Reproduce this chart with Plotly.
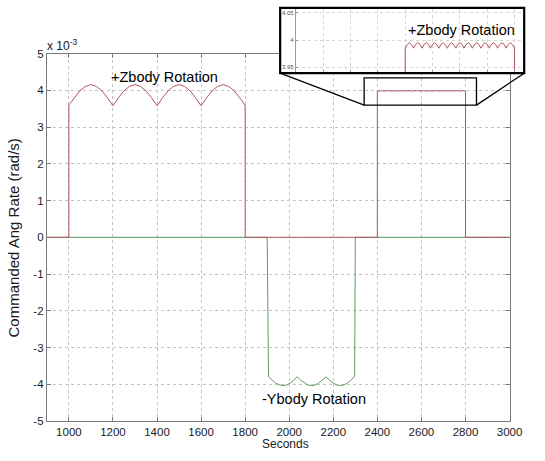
import plotly.graph_objects as go

W, H = 545, 461

# ---------------- data (rates in units of 1e-3 rad/s) ----------------
# +Zbody rotation (red)
z_time = [900, 1000,
          1000, 1025, 1050, 1075, 1100, 1125, 1150, 1175,
          1200, 1225, 1250, 1275, 1300, 1325, 1350, 1375,
          1400, 1425, 1450, 1475, 1500, 1525, 1550, 1575,
          1600, 1625, 1650, 1675, 1700, 1725, 1750, 1775, 1800,
          1800, 2400,
          2400, 2408, 2415, 2423, 2431, 2438, 2446, 2454, 2462, 2469, 2477, 2485,
          2492, 2500, 2508, 2515, 2523, 2531, 2538, 2546, 2554, 2562, 2569, 2577,
          2585, 2592, 2600, 2608, 2615, 2623, 2631, 2638, 2646, 2654, 2662, 2669,
          2677, 2685, 2692, 2700, 2708, 2715, 2723, 2731, 2738, 2746, 2754, 2762,
          2769, 2777, 2785, 2792, 2800,
          2800, 3000]
z_rate = [0, 0,
          3.60, 3.80, 3.99, 4.11, 4.16, 4.11, 3.99, 3.80,
          3.58, 3.80, 3.99, 4.11, 4.16, 4.11, 3.99, 3.80,
          3.58, 3.80, 3.99, 4.11, 4.16, 4.11, 3.99, 3.80,
          3.58, 3.80, 3.99, 4.11, 4.16, 4.11, 3.99, 3.80, 3.60,
          0, 0,
          3.985, 3.992, 3.995, 3.992, 3.985, 3.992, 3.995, 3.992, 3.985, 3.992, 3.995, 3.992,
          3.985, 3.992, 3.995, 3.992, 3.985, 3.992, 3.995, 3.992, 3.985, 3.992, 3.995, 3.992,
          3.985, 3.992, 3.995, 3.992, 3.985, 3.992, 3.995, 3.992, 3.985, 3.992, 3.995, 3.992,
          3.985, 3.992, 3.995, 3.992, 3.985, 3.992, 3.995, 3.992, 3.985, 3.992, 3.995, 3.992,
          3.985, 3.992, 3.995, 3.992, 3.985,
          0, 0]

# -Ybody rotation (green)
y_time = [900, 1900,
          1906, 1922, 1939, 1955, 1971, 1988, 2004, 2020,
          2036, 2052, 2069, 2085, 2101, 2118, 2134, 2150,
          2167, 2183, 2199, 2216, 2232, 2248, 2264, 2281, 2297,
          2300, 3000]
y_rate = [0, 0,
          -3.80, -3.89, -3.97, -4.02, -4.04, -4.02, -3.97, -3.89,
          -3.80, -3.89, -3.97, -4.02, -4.04, -4.02, -3.97, -3.89,
          -3.80, -3.89, -3.97, -4.02, -4.04, -4.02, -3.97, -3.89, -3.78,
          0, 0]

x_ticks = [1000, 1200, 1400, 1600, 1800, 2000, 2200, 2400, 2600, 2800, 3000]
y_ticks = [-5, -4, -3, -2, -1, 0, 1, 2, 3, 4, 5]
y_tick_labels = ["-5", "-4", "-3", "-2", "-1", "0", "1", "2", "3", "4", "5"]
inset_y_ticks = [3.95, 4.0, 4.05]
inset_y_labels = ["3.95", "4", "4.05"]
inset_x_ticks = [2000, 2100, 2200, 2300, 2400, 2500, 2600, 2700, 2800]

zoom_box_x = [2340, 2850]
zoom_box_y = [3.60, 4.34]

RED = "#b3545f"
GREEN = "#5c9c5c"
AXC = "#7a7a7a"
GRID = "#c4c4c4"
FONT = "Liberation Sans, Arial, Helvetica, sans-serif"


def px(x):
    return x / W


def py(y):
    return 1 - y / H


# pixel layout
main_x = (48, 522)
main_y = (49, 426)
box_x = (287, 537)
box_y = (2, 69)
ins_x = (303, 535)
ins_y = (3, 68)

fig = go.Figure()
fig.add_trace(go.Scatter(x=y_time, y=y_rate, mode="lines",
                         line=dict(color=GREEN, width=1), xaxis="x", yaxis="y",
                         showlegend=False, hoverinfo="skip"))
fig.add_trace(go.Scatter(x=z_time, y=z_rate, mode="lines",
                         line=dict(color=RED, width=1), xaxis="x", yaxis="y",
                         showlegend=False, hoverinfo="skip"))
# white backdrop subplot for the inset box
fig.add_trace(go.Scatter(x=[0.5], y=[0.5], mode="markers", marker=dict(opacity=0),
                         xaxis="x2", yaxis="y2", showlegend=False, hoverinfo="skip"))
# inset
fig.add_trace(go.Scatter(x=z_time, y=z_rate, mode="lines",
                         line=dict(color=RED, width=1), xaxis="x3", yaxis="y3",
                         showlegend=False, hoverinfo="skip"))

axis_common = dict(showline=True, linecolor=AXC, linewidth=1, mirror="ticks",
                   ticks="inside", tickcolor=AXC, showgrid=True, gridcolor=GRID,
                   griddash="dot", gridwidth=1, zeroline=False,
                   tickfont=dict(family=FONT, size=11.5, color="#1a1a1a"))

fig.update_layout(
    width=W, height=H, autosize=False,
    margin=dict(l=0, r=0, t=0, b=0),
    paper_bgcolor="white", plot_bgcolor="white",
    font=dict(family=FONT),
    hovermode=False,
    xaxis=dict(domain=[px(main_x[0]), px(main_x[1])], range=[900, 3000],
               tickmode="array", tickvals=x_ticks, ticklen=4, anchor="y",
               **axis_common),
    yaxis=dict(domain=[py(main_y[1]), py(main_y[0])], range=[-5, 5],
               tickmode="array", tickvals=y_ticks, ticktext=y_tick_labels,
               ticklen=4, anchor="x", **axis_common),
    xaxis2=dict(domain=[px(box_x[0]), px(box_x[1])], range=[0, 1], visible=False,
                anchor="y2"),
    yaxis2=dict(domain=[py(box_y[1]), py(box_y[0])], range=[0, 1], visible=False,
                anchor="x2"),
    xaxis3=dict(domain=[px(ins_x[0]), px(ins_x[1])], range=[2000, 2828],
                tickmode="array", tickvals=inset_x_ticks, showticklabels=False,
                showline=True, linecolor="#9a9a9a", linewidth=1, mirror=False,
                ticks="inside", ticklen=2, tickcolor="#9a9a9a",
                showgrid=True, gridcolor="#d4d4d4", griddash="dot", zeroline=False,
                anchor="y3"),
    yaxis3=dict(domain=[py(ins_y[1]), py(ins_y[0])], range=[3.941, 4.057],
                tickmode="array", tickvals=inset_y_ticks, ticktext=inset_y_labels,
                showline=True, linecolor="#9a9a9a", linewidth=1, mirror=False,
                ticks="inside", ticklen=2, tickcolor="#9a9a9a",
                showgrid=True, gridcolor="#d4d4d4", griddash="dot", zeroline=False,
                tickfont=dict(family=FONT, size=6, color="#555555"),
                anchor="x3"),
)

shapes = [
    # zoom rectangle on the main plot
    dict(type="rect", xref="x", yref="y", x0=zoom_box_x[0], x1=zoom_box_x[1],
         y0=zoom_box_y[0], y1=zoom_box_y[1], line=dict(color="black", width=1.3),
         layer="above"),
    # thick inset border
    dict(type="rect", xref="paper", yref="paper", x0=px(box_x[0]), x1=px(box_x[1]),
         y0=py(box_y[1]), y1=py(box_y[0]), line=dict(color="black", width=2.2),
         layer="above"),
]


# connector lines from inset corners to zoom rectangle corners
def data_to_px(xv, yv):
    xp = main_x[0] + (xv - 900) / (3000 - 900) * (main_x[1] - main_x[0])
    yp = main_y[1] - (yv + 5) / 10 * (main_y[1] - main_y[0])
    return xp, yp


bl = data_to_px(zoom_box_x[0], zoom_box_y[0])
br = data_to_px(zoom_box_x[1], zoom_box_y[0])
shapes.append(dict(type="line", xref="paper", yref="paper",
                   x0=px(box_x[0]), y0=py(box_y[1]), x1=px(bl[0]), y1=py(bl[1]),
                   line=dict(color="black", width=1.3), layer="above"))
shapes.append(dict(type="line", xref="paper", yref="paper",
                   x0=px(box_x[1]), y0=py(box_y[1]), x1=px(br[0]), y1=py(br[1]),
                   line=dict(color="black", width=1.3), layer="above"))
fig.update_layout(shapes=shapes)

ann = [
    dict(text="+Zbody Rotation", x=px(168.5), y=py(73), xref="paper", yref="paper",
         showarrow=False, font=dict(size=14.5, color="black", family=FONT),
         xanchor="center", yanchor="middle"),
    dict(text="-Ybody Rotation", x=px(322), y=py(404), xref="paper", yref="paper",
         showarrow=False, font=dict(size=14.5, color="black", family=FONT),
         xanchor="center", yanchor="middle"),
    dict(text="+Zbody Rotation", x=px(473), y=py(25), xref="paper", yref="paper",
         showarrow=False, font=dict(size=14.5, color="black", family=FONT),
         xanchor="center", yanchor="middle"),
    dict(text="x 10<sup>-3</sup>", x=px(46), y=py(40), xref="paper", yref="paper",
         showarrow=False, font=dict(size=12, color="#1a1a1a", family=FONT),
         xanchor="left", yanchor="middle"),
    dict(text="Seconds", x=px(292), y=py(450), xref="paper", yref="paper",
         showarrow=False, font=dict(size=12, color="#1a1a1a", family=FONT),
         xanchor="center", yanchor="middle"),
    dict(text="Commanded Ang Rate (rad/s)", x=px(14), y=py(238), xref="paper",
         yref="paper", showarrow=False, textangle=-90,
         font=dict(size=15, color="#1a1a1a", family=FONT),
         xanchor="center", yanchor="middle"),
]
fig.update_layout(annotations=ann)

post = (
    "document.documentElement.style.margin='0';"
    "document.body.style.margin='0';document.body.style.padding='0';"
    "document.documentElement.style.overflow='hidden';"
    "document.body.style.overflow='hidden';"
    "var gd=document.getElementById('{plot_id}');"
    "var w=window.innerWidth, h=window.innerHeight;"
    "if(w>0 && h>0 && (w!==%d || h!==%d)){Plotly.relayout(gd,{width:w,height:h});}" % (W, H)
)

fig.write_html("out.html", config={"displayModeBar": False}, post_script=post)
